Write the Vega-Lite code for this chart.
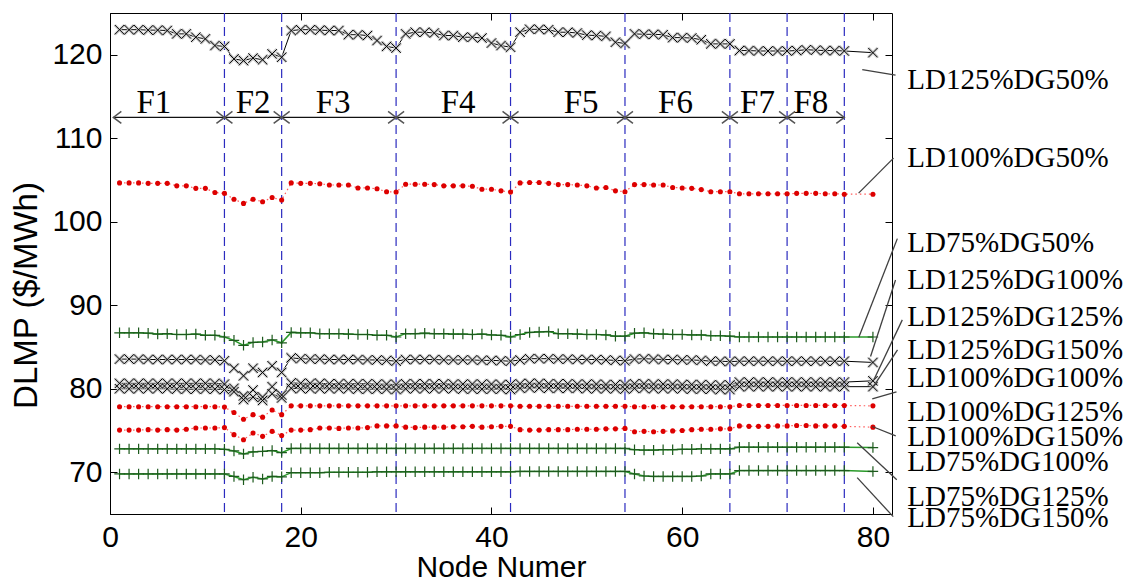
{
"$schema":"https://vega.github.io/schema/vega-lite/v6.json",
"width":782,"height":501,"autosize":"none",
"padding":{"left":110,"top":13,"right":243,"bottom":67},
"background":"white",
"config":{"view":{"stroke":"#000","strokeWidth":1},
"axis":{"grid":false,"domainColor":"#000","tickColor":"#000","labelColor":"#000","titleColor":"#000","labelFont":"Liberation Sans","titleFont":"Liberation Sans","labelFontSize":30,"titleFontSize":31,"titleFontWeight":"normal","tickSize":-7,"tickWidth":1,"domainWidth":1}},
"datasets":{
"vlines":[{"x":12},{"x":18},{"x":30},{"x":42},{"x":54},{"x":65},{"x":71},{"x":77}],
"feeders":[{"f":"F1","start":0.35,"end":12,"mid":4.6,"level":112.5},{"f":"F2","start":12,"end":18,"mid":15.0,"level":112.5},{"f":"F3","start":18,"end":30,"mid":23.4,"level":112.5},{"f":"F4","start":30,"end":42,"mid":36.5,"level":112.5},{"f":"F5","start":42,"end":54,"mid":49.4,"level":112.5},{"f":"F6","start":54,"end":65,"mid":59.3,"level":112.5},{"f":"F7","start":65,"end":71,"mid":67.9,"level":112.5},{"f":"F8","start":71,"end":77,"mid":73.5,"level":112.5}],
"labels":[{"label":"LD125%DG50%","y":116.95},{"label":"LD100%DG50%","y":107.62},{"label":"LD75%DG50%","y":97.45},{"label":"LD125%DG100%","y":93.03},{"label":"LD125%DG125%","y":88.6},{"label":"LD125%DG150%","y":84.65},{"label":"LD100%DG100%","y":81.3},{"label":"LD100%DG125%","y":77.24},{"label":"LD100%DG150%","y":74.25},{"label":"LD75%DG100%","y":71.27},{"label":"LD75%DG125%","y":67.08},{"label":"LD75%DG150%","y":64.56}],
"leaders":[{"x":78.88,"y":118.23,"x2":82.37,"y2":117.55},{"x":78.5,"y":103.43,"x2":82.16,"y2":107.62},{"x":78.52,"y":86.17,"x2":82.56,"y2":97.98},{"x":79.75,"y":83.86,"x2":82.37,"y2":93.03},{"x":80.1,"y":81.07,"x2":83.08,"y2":88.25},{"x":79.96,"y":80.1,"x2":82.58,"y2":84.65},{"x":79.93,"y":78.8,"x2":82.47,"y2":79.64},{"x":79.93,"y":75.48,"x2":82.39,"y2":74.36},{"x":78.35,"y":73.53,"x2":82.5,"y2":69.1},{"x":78.35,"y":69.35,"x2":82.13,"y2":64.68}],
"series":[
{"ld":125,"dg":50,"x":1,"y":123.0},{"ld":125,"dg":50,"x":2,"y":123.0},{"ld":125,"dg":50,"x":3,"y":123.0},{"ld":125,"dg":50,"x":4,"y":122.95},{"ld":125,"dg":50,"x":5,"y":122.95},{"ld":125,"dg":50,"x":6,"y":122.9},{"ld":125,"dg":50,"x":7,"y":122.5},{"ld":125,"dg":50,"x":8,"y":122.5},{"ld":125,"dg":50,"x":9,"y":122.1},{"ld":125,"dg":50,"x":10,"y":121.9},{"ld":125,"dg":50,"x":11,"y":121.1},{"ld":125,"dg":50,"x":12,"y":121.0},
{"ld":125,"dg":50,"x":13,"y":119.5},{"ld":125,"dg":50,"x":14,"y":119.3},{"ld":125,"dg":50,"x":15,"y":119.6},{"ld":125,"dg":50,"x":16,"y":119.4},{"ld":125,"dg":50,"x":17,"y":120.1},{"ld":125,"dg":50,"x":18,"y":119.7},
{"ld":125,"dg":50,"x":19,"y":122.9},{"ld":125,"dg":50,"x":20,"y":123.0},{"ld":125,"dg":50,"x":21,"y":123.0},{"ld":125,"dg":50,"x":22,"y":122.95},{"ld":125,"dg":50,"x":23,"y":122.9},{"ld":125,"dg":50,"x":24,"y":122.9},{"ld":125,"dg":50,"x":25,"y":122.4},{"ld":125,"dg":50,"x":26,"y":122.4},{"ld":125,"dg":50,"x":27,"y":122.3},{"ld":125,"dg":50,"x":28,"y":121.7},{"ld":125,"dg":50,"x":29,"y":121.0},{"ld":125,"dg":50,"x":30,"y":120.8},
{"ld":125,"dg":50,"x":31,"y":122.5},{"ld":125,"dg":50,"x":32,"y":122.7},{"ld":125,"dg":50,"x":33,"y":122.7},{"ld":125,"dg":50,"x":34,"y":122.6},{"ld":125,"dg":50,"x":35,"y":122.3},{"ld":125,"dg":50,"x":36,"y":122.3},{"ld":125,"dg":50,"x":37,"y":122.1},{"ld":125,"dg":50,"x":38,"y":122.1},{"ld":125,"dg":50,"x":39,"y":122.0},{"ld":125,"dg":50,"x":40,"y":121.4},{"ld":125,"dg":50,"x":41,"y":121.1},{"ld":125,"dg":50,"x":42,"y":120.9},
{"ld":125,"dg":50,"x":43,"y":122.7},{"ld":125,"dg":50,"x":44,"y":123.05},{"ld":125,"dg":50,"x":45,"y":123.05},{"ld":125,"dg":50,"x":46,"y":123.0},{"ld":125,"dg":50,"x":47,"y":122.7},{"ld":125,"dg":50,"x":48,"y":122.7},{"ld":125,"dg":50,"x":49,"y":122.6},{"ld":125,"dg":50,"x":50,"y":122.35},{"ld":125,"dg":50,"x":51,"y":122.3},{"ld":125,"dg":50,"x":52,"y":122.2},{"ld":125,"dg":50,"x":53,"y":121.5},{"ld":125,"dg":50,"x":54,"y":121.35},
{"ld":125,"dg":50,"x":55,"y":122.5},{"ld":125,"dg":50,"x":56,"y":122.45},{"ld":125,"dg":50,"x":57,"y":122.45},{"ld":125,"dg":50,"x":58,"y":122.4},{"ld":125,"dg":50,"x":59,"y":122.05},{"ld":125,"dg":50,"x":60,"y":122.05},{"ld":125,"dg":50,"x":61,"y":122.0},{"ld":125,"dg":50,"x":62,"y":121.8},{"ld":125,"dg":50,"x":63,"y":121.3},{"ld":125,"dg":50,"x":64,"y":121.3},{"ld":125,"dg":50,"x":65,"y":121.3},
{"ld":125,"dg":50,"x":66,"y":120.5},{"ld":125,"dg":50,"x":67,"y":120.5},{"ld":125,"dg":50,"x":68,"y":120.45},{"ld":125,"dg":50,"x":69,"y":120.45},{"ld":125,"dg":50,"x":70,"y":120.45},{"ld":125,"dg":50,"x":71,"y":120.45},
{"ld":125,"dg":50,"x":72,"y":120.5},{"ld":125,"dg":50,"x":73,"y":120.6},{"ld":125,"dg":50,"x":74,"y":120.55},{"ld":125,"dg":50,"x":75,"y":120.5},{"ld":125,"dg":50,"x":76,"y":120.5},{"ld":125,"dg":50,"x":77,"y":120.45},{"ld":125,"dg":50,"x":80,"y":120.25},

{"ld":100,"dg":50,"x":1,"y":104.65},{"ld":100,"dg":50,"x":2,"y":104.65},{"ld":100,"dg":50,"x":3,"y":104.65},{"ld":100,"dg":50,"x":4,"y":104.6},{"ld":100,"dg":50,"x":5,"y":104.6},{"ld":100,"dg":50,"x":6,"y":104.6},{"ld":100,"dg":50,"x":7,"y":104.3},{"ld":100,"dg":50,"x":8,"y":104.3},{"ld":100,"dg":50,"x":9,"y":104.0},{"ld":100,"dg":50,"x":10,"y":104.0},{"ld":100,"dg":50,"x":11,"y":103.5},{"ld":100,"dg":50,"x":12,"y":103.4},
{"ld":100,"dg":50,"x":13,"y":102.7},{"ld":100,"dg":50,"x":14,"y":102.2},{"ld":100,"dg":50,"x":15,"y":102.7},{"ld":100,"dg":50,"x":16,"y":102.4},{"ld":100,"dg":50,"x":17,"y":102.9},{"ld":100,"dg":50,"x":18,"y":102.6},
{"ld":100,"dg":50,"x":19,"y":104.65},{"ld":100,"dg":50,"x":20,"y":104.6},{"ld":100,"dg":50,"x":21,"y":104.6},{"ld":100,"dg":50,"x":22,"y":104.55},{"ld":100,"dg":50,"x":23,"y":104.4},{"ld":100,"dg":50,"x":24,"y":104.4},{"ld":100,"dg":50,"x":25,"y":104.4},{"ld":100,"dg":50,"x":26,"y":104.05},{"ld":100,"dg":50,"x":27,"y":104.05},{"ld":100,"dg":50,"x":28,"y":103.95},{"ld":100,"dg":50,"x":29,"y":103.6},{"ld":100,"dg":50,"x":30,"y":103.55},
{"ld":100,"dg":50,"x":31,"y":104.5},{"ld":100,"dg":50,"x":32,"y":104.5},{"ld":100,"dg":50,"x":33,"y":104.5},{"ld":100,"dg":50,"x":34,"y":104.45},{"ld":100,"dg":50,"x":35,"y":104.3},{"ld":100,"dg":50,"x":36,"y":104.3},{"ld":100,"dg":50,"x":37,"y":104.3},{"ld":100,"dg":50,"x":38,"y":104.25},{"ld":100,"dg":50,"x":39,"y":103.9},{"ld":100,"dg":50,"x":40,"y":103.9},{"ld":100,"dg":50,"x":41,"y":103.7},{"ld":100,"dg":50,"x":42,"y":103.55},
{"ld":100,"dg":50,"x":43,"y":104.65},{"ld":100,"dg":50,"x":44,"y":104.7},{"ld":100,"dg":50,"x":45,"y":104.7},{"ld":100,"dg":50,"x":46,"y":104.6},{"ld":100,"dg":50,"x":47,"y":104.45},{"ld":100,"dg":50,"x":48,"y":104.45},{"ld":100,"dg":50,"x":49,"y":104.4},{"ld":100,"dg":50,"x":50,"y":104.3},{"ld":100,"dg":50,"x":51,"y":104.05},{"ld":100,"dg":50,"x":52,"y":104.1},{"ld":100,"dg":50,"x":53,"y":103.7},{"ld":100,"dg":50,"x":54,"y":103.6},
{"ld":100,"dg":50,"x":55,"y":104.45},{"ld":100,"dg":50,"x":56,"y":104.45},{"ld":100,"dg":50,"x":57,"y":104.4},{"ld":100,"dg":50,"x":58,"y":104.4},{"ld":100,"dg":50,"x":59,"y":104.1},{"ld":100,"dg":50,"x":60,"y":104.05},{"ld":100,"dg":50,"x":61,"y":104.0},{"ld":100,"dg":50,"x":62,"y":103.85},{"ld":100,"dg":50,"x":63,"y":103.6},{"ld":100,"dg":50,"x":64,"y":103.6},{"ld":100,"dg":50,"x":65,"y":103.6},
{"ld":100,"dg":50,"x":66,"y":103.35},{"ld":100,"dg":50,"x":67,"y":103.35},{"ld":100,"dg":50,"x":68,"y":103.35},{"ld":100,"dg":50,"x":69,"y":103.35},{"ld":100,"dg":50,"x":70,"y":103.35},{"ld":100,"dg":50,"x":71,"y":103.35},
{"ld":100,"dg":50,"x":72,"y":103.4},{"ld":100,"dg":50,"x":73,"y":103.4},{"ld":100,"dg":50,"x":74,"y":103.4},{"ld":100,"dg":50,"x":75,"y":103.35},{"ld":100,"dg":50,"x":76,"y":103.35},{"ld":100,"dg":50,"x":77,"y":103.3},{"ld":100,"dg":50,"x":80,"y":103.3},

{"ld":75,"dg":50,"x":1,"y":86.7},{"ld":75,"dg":50,"x":2,"y":86.7},{"ld":75,"dg":50,"x":3,"y":86.7},{"ld":75,"dg":50,"x":4,"y":86.65},{"ld":75,"dg":50,"x":5,"y":86.55},{"ld":75,"dg":50,"x":6,"y":86.6},{"ld":75,"dg":50,"x":7,"y":86.5},{"ld":75,"dg":50,"x":8,"y":86.5},{"ld":75,"dg":50,"x":9,"y":86.55},{"ld":75,"dg":50,"x":10,"y":86.4},{"ld":75,"dg":50,"x":11,"y":86.4},{"ld":75,"dg":50,"x":12,"y":86.2},
{"ld":75,"dg":50,"x":13,"y":85.8},{"ld":75,"dg":50,"x":14,"y":85.2},{"ld":75,"dg":50,"x":15,"y":85.55},{"ld":75,"dg":50,"x":16,"y":85.6},{"ld":75,"dg":50,"x":17,"y":85.85},{"ld":75,"dg":50,"x":18,"y":85.5},
{"ld":75,"dg":50,"x":19,"y":86.75},{"ld":75,"dg":50,"x":20,"y":86.7},{"ld":75,"dg":50,"x":21,"y":86.7},{"ld":75,"dg":50,"x":22,"y":86.6},{"ld":75,"dg":50,"x":23,"y":86.6},{"ld":75,"dg":50,"x":24,"y":86.6},{"ld":75,"dg":50,"x":25,"y":86.55},{"ld":75,"dg":50,"x":26,"y":86.5},{"ld":75,"dg":50,"x":27,"y":86.5},{"ld":75,"dg":50,"x":28,"y":86.4},{"ld":75,"dg":50,"x":29,"y":86.4},{"ld":75,"dg":50,"x":30,"y":86.2},
{"ld":75,"dg":50,"x":31,"y":86.6},{"ld":75,"dg":50,"x":32,"y":86.6},{"ld":75,"dg":50,"x":33,"y":86.65},{"ld":75,"dg":50,"x":34,"y":86.6},{"ld":75,"dg":50,"x":35,"y":86.6},{"ld":75,"dg":50,"x":36,"y":86.55},{"ld":75,"dg":50,"x":37,"y":86.55},{"ld":75,"dg":50,"x":38,"y":86.5},{"ld":75,"dg":50,"x":39,"y":86.55},{"ld":75,"dg":50,"x":40,"y":86.45},{"ld":75,"dg":50,"x":41,"y":86.4},{"ld":75,"dg":50,"x":42,"y":86.2},
{"ld":75,"dg":50,"x":43,"y":86.5},{"ld":75,"dg":50,"x":44,"y":86.75},{"ld":75,"dg":50,"x":45,"y":86.8},{"ld":75,"dg":50,"x":46,"y":86.85},{"ld":75,"dg":50,"x":47,"y":86.6},{"ld":75,"dg":50,"x":48,"y":86.6},{"ld":75,"dg":50,"x":49,"y":86.55},{"ld":75,"dg":50,"x":50,"y":86.5},{"ld":75,"dg":50,"x":51,"y":86.5},{"ld":75,"dg":50,"x":52,"y":86.45},{"ld":75,"dg":50,"x":53,"y":86.3},{"ld":75,"dg":50,"x":54,"y":86.3},
{"ld":75,"dg":50,"x":55,"y":86.65},{"ld":75,"dg":50,"x":56,"y":86.7},{"ld":75,"dg":50,"x":57,"y":86.6},{"ld":75,"dg":50,"x":58,"y":86.55},{"ld":75,"dg":50,"x":59,"y":86.5},{"ld":75,"dg":50,"x":60,"y":86.5},{"ld":75,"dg":50,"x":61,"y":86.45},{"ld":75,"dg":50,"x":62,"y":86.45},{"ld":75,"dg":50,"x":63,"y":86.35},{"ld":75,"dg":50,"x":64,"y":86.35},{"ld":75,"dg":50,"x":65,"y":86.3},
{"ld":75,"dg":50,"x":66,"y":86.2},{"ld":75,"dg":50,"x":67,"y":86.2},{"ld":75,"dg":50,"x":68,"y":86.2},{"ld":75,"dg":50,"x":69,"y":86.2},{"ld":75,"dg":50,"x":70,"y":86.2},{"ld":75,"dg":50,"x":71,"y":86.2},{"ld":75,"dg":50,"x":72,"y":86.2},{"ld":75,"dg":50,"x":73,"y":86.2},{"ld":75,"dg":50,"x":74,"y":86.2},{"ld":75,"dg":50,"x":75,"y":86.2},{"ld":75,"dg":50,"x":76,"y":86.2},{"ld":75,"dg":50,"x":77,"y":86.2},{"ld":75,"dg":50,"x":80,"y":86.2},

{"ld":125,"dg":100,"x":1,"y":83.55},{"ld":125,"dg":100,"x":2,"y":83.55},{"ld":125,"dg":100,"x":3,"y":83.55},{"ld":125,"dg":100,"x":4,"y":83.5},{"ld":125,"dg":100,"x":5,"y":83.5},{"ld":125,"dg":100,"x":6,"y":83.5},{"ld":125,"dg":100,"x":7,"y":83.5},{"ld":125,"dg":100,"x":8,"y":83.5},{"ld":125,"dg":100,"x":9,"y":83.5},{"ld":125,"dg":100,"x":10,"y":83.45},{"ld":125,"dg":100,"x":11,"y":83.45},{"ld":125,"dg":100,"x":12,"y":83.35},
{"ld":125,"dg":100,"x":13,"y":82.45},{"ld":125,"dg":100,"x":14,"y":81.55},{"ld":125,"dg":100,"x":15,"y":82.45},{"ld":125,"dg":100,"x":16,"y":81.95},{"ld":125,"dg":100,"x":17,"y":82.75},{"ld":125,"dg":100,"x":18,"y":81.95},
{"ld":125,"dg":100,"x":19,"y":83.7},{"ld":125,"dg":100,"x":20,"y":83.6},{"ld":125,"dg":100,"x":21,"y":83.55},{"ld":125,"dg":100,"x":22,"y":83.55},{"ld":125,"dg":100,"x":23,"y":83.5},{"ld":125,"dg":100,"x":24,"y":83.5},{"ld":125,"dg":100,"x":25,"y":83.5},{"ld":125,"dg":100,"x":26,"y":83.5},{"ld":125,"dg":100,"x":27,"y":83.45},{"ld":125,"dg":100,"x":28,"y":83.45},{"ld":125,"dg":100,"x":29,"y":83.4},{"ld":125,"dg":100,"x":30,"y":83.3},
{"ld":125,"dg":100,"x":31,"y":83.5},{"ld":125,"dg":100,"x":32,"y":83.5},{"ld":125,"dg":100,"x":33,"y":83.5},{"ld":125,"dg":100,"x":34,"y":83.5},{"ld":125,"dg":100,"x":35,"y":83.45},{"ld":125,"dg":100,"x":36,"y":83.45},{"ld":125,"dg":100,"x":37,"y":83.45},{"ld":125,"dg":100,"x":38,"y":83.45},{"ld":125,"dg":100,"x":39,"y":83.4},{"ld":125,"dg":100,"x":40,"y":83.4},{"ld":125,"dg":100,"x":41,"y":83.35},{"ld":125,"dg":100,"x":42,"y":83.3},
{"ld":125,"dg":100,"x":43,"y":83.45},{"ld":125,"dg":100,"x":44,"y":83.6},{"ld":125,"dg":100,"x":45,"y":83.6},{"ld":125,"dg":100,"x":46,"y":83.6},{"ld":125,"dg":100,"x":47,"y":83.55},{"ld":125,"dg":100,"x":48,"y":83.55},{"ld":125,"dg":100,"x":49,"y":83.5},{"ld":125,"dg":100,"x":50,"y":83.5},{"ld":125,"dg":100,"x":51,"y":83.5},{"ld":125,"dg":100,"x":52,"y":83.45},{"ld":125,"dg":100,"x":53,"y":83.4},{"ld":125,"dg":100,"x":54,"y":83.35},
{"ld":125,"dg":100,"x":55,"y":83.55},{"ld":125,"dg":100,"x":56,"y":83.6},{"ld":125,"dg":100,"x":57,"y":83.55},{"ld":125,"dg":100,"x":58,"y":83.5},{"ld":125,"dg":100,"x":59,"y":83.5},{"ld":125,"dg":100,"x":60,"y":83.45},{"ld":125,"dg":100,"x":61,"y":83.45},{"ld":125,"dg":100,"x":62,"y":83.4},{"ld":125,"dg":100,"x":63,"y":83.3},{"ld":125,"dg":100,"x":64,"y":83.3},{"ld":125,"dg":100,"x":65,"y":83.25},
{"ld":125,"dg":100,"x":66,"y":83.3},{"ld":125,"dg":100,"x":67,"y":83.3},{"ld":125,"dg":100,"x":68,"y":83.3},{"ld":125,"dg":100,"x":69,"y":83.3},{"ld":125,"dg":100,"x":70,"y":83.3},{"ld":125,"dg":100,"x":71,"y":83.3},{"ld":125,"dg":100,"x":72,"y":83.3},{"ld":125,"dg":100,"x":73,"y":83.3},{"ld":125,"dg":100,"x":74,"y":83.3},{"ld":125,"dg":100,"x":75,"y":83.3},{"ld":125,"dg":100,"x":76,"y":83.3},{"ld":125,"dg":100,"x":77,"y":83.3},{"ld":125,"dg":100,"x":80,"y":83.15},

{"ld":125,"dg":125,"x":1,"y":80.65},{"ld":125,"dg":125,"x":2,"y":80.65},{"ld":125,"dg":125,"x":3,"y":80.65},{"ld":125,"dg":125,"x":4,"y":80.65},{"ld":125,"dg":125,"x":5,"y":80.65},{"ld":125,"dg":125,"x":6,"y":80.65},{"ld":125,"dg":125,"x":7,"y":80.65},{"ld":125,"dg":125,"x":8,"y":80.65},{"ld":125,"dg":125,"x":9,"y":80.65},{"ld":125,"dg":125,"x":10,"y":80.65},{"ld":125,"dg":125,"x":11,"y":80.65},{"ld":125,"dg":125,"x":12,"y":80.55},
{"ld":125,"dg":125,"x":13,"y":80.05},{"ld":125,"dg":125,"x":14,"y":79.15},{"ld":125,"dg":125,"x":15,"y":79.85},{"ld":125,"dg":125,"x":16,"y":79.0},{"ld":125,"dg":125,"x":17,"y":80.25},{"ld":125,"dg":125,"x":18,"y":79.25},
{"ld":125,"dg":125,"x":19,"y":80.7},{"ld":125,"dg":125,"x":20,"y":80.65},{"ld":125,"dg":125,"x":21,"y":80.65},{"ld":125,"dg":125,"x":22,"y":80.65},{"ld":125,"dg":125,"x":23,"y":80.6},{"ld":125,"dg":125,"x":24,"y":80.6},{"ld":125,"dg":125,"x":25,"y":80.6},{"ld":125,"dg":125,"x":26,"y":80.6},{"ld":125,"dg":125,"x":27,"y":80.6},{"ld":125,"dg":125,"x":28,"y":80.55},{"ld":125,"dg":125,"x":29,"y":80.55},{"ld":125,"dg":125,"x":30,"y":80.5},
{"ld":125,"dg":125,"x":31,"y":80.6},{"ld":125,"dg":125,"x":32,"y":80.6},{"ld":125,"dg":125,"x":33,"y":80.6},{"ld":125,"dg":125,"x":34,"y":80.6},{"ld":125,"dg":125,"x":35,"y":80.6},{"ld":125,"dg":125,"x":36,"y":80.55},{"ld":125,"dg":125,"x":37,"y":80.55},{"ld":125,"dg":125,"x":38,"y":80.55},{"ld":125,"dg":125,"x":39,"y":80.55},{"ld":125,"dg":125,"x":40,"y":80.55},{"ld":125,"dg":125,"x":41,"y":80.5},{"ld":125,"dg":125,"x":42,"y":80.5},
{"ld":125,"dg":125,"x":43,"y":80.6},{"ld":125,"dg":125,"x":44,"y":80.65},{"ld":125,"dg":125,"x":45,"y":80.65},{"ld":125,"dg":125,"x":46,"y":80.6},{"ld":125,"dg":125,"x":47,"y":80.6},{"ld":125,"dg":125,"x":48,"y":80.6},{"ld":125,"dg":125,"x":49,"y":80.55},{"ld":125,"dg":125,"x":50,"y":80.55},{"ld":125,"dg":125,"x":51,"y":80.55},{"ld":125,"dg":125,"x":52,"y":80.5},{"ld":125,"dg":125,"x":53,"y":80.5},{"ld":125,"dg":125,"x":54,"y":80.5},
{"ld":125,"dg":125,"x":55,"y":80.6},{"ld":125,"dg":125,"x":56,"y":80.6},{"ld":125,"dg":125,"x":57,"y":80.55},{"ld":125,"dg":125,"x":58,"y":80.55},{"ld":125,"dg":125,"x":59,"y":80.55},{"ld":125,"dg":125,"x":60,"y":80.5},{"ld":125,"dg":125,"x":61,"y":80.5},{"ld":125,"dg":125,"x":62,"y":80.5},{"ld":125,"dg":125,"x":63,"y":80.45},{"ld":125,"dg":125,"x":64,"y":80.45},{"ld":125,"dg":125,"x":65,"y":80.45},
{"ld":125,"dg":125,"x":66,"y":80.8},{"ld":125,"dg":125,"x":67,"y":80.8},{"ld":125,"dg":125,"x":68,"y":80.8},{"ld":125,"dg":125,"x":69,"y":80.8},{"ld":125,"dg":125,"x":70,"y":80.8},{"ld":125,"dg":125,"x":71,"y":80.8},{"ld":125,"dg":125,"x":72,"y":80.8},{"ld":125,"dg":125,"x":73,"y":80.8},{"ld":125,"dg":125,"x":74,"y":80.8},{"ld":125,"dg":125,"x":75,"y":80.8},{"ld":125,"dg":125,"x":76,"y":80.8},{"ld":125,"dg":125,"x":77,"y":80.8},{"ld":125,"dg":125,"x":80,"y":80.95},

{"ld":125,"dg":150,"x":1,"y":80.0},{"ld":125,"dg":150,"x":2,"y":80.0},{"ld":125,"dg":150,"x":3,"y":80.0},{"ld":125,"dg":150,"x":4,"y":80.0},{"ld":125,"dg":150,"x":5,"y":80.0},{"ld":125,"dg":150,"x":6,"y":80.0},{"ld":125,"dg":150,"x":7,"y":79.95},{"ld":125,"dg":150,"x":8,"y":79.95},{"ld":125,"dg":150,"x":9,"y":79.95},{"ld":125,"dg":150,"x":10,"y":79.95},{"ld":125,"dg":150,"x":11,"y":79.95},{"ld":125,"dg":150,"x":12,"y":79.9},
{"ld":125,"dg":150,"x":13,"y":79.65},{"ld":125,"dg":150,"x":14,"y":78.7},{"ld":125,"dg":150,"x":15,"y":79.0},{"ld":125,"dg":150,"x":16,"y":78.6},{"ld":125,"dg":150,"x":17,"y":79.4},{"ld":125,"dg":150,"x":18,"y":78.9},
{"ld":125,"dg":150,"x":19,"y":80.05},{"ld":125,"dg":150,"x":20,"y":80.0},{"ld":125,"dg":150,"x":21,"y":80.0},{"ld":125,"dg":150,"x":22,"y":80.0},{"ld":125,"dg":150,"x":23,"y":80.0},{"ld":125,"dg":150,"x":24,"y":80.0},{"ld":125,"dg":150,"x":25,"y":80.0},{"ld":125,"dg":150,"x":26,"y":79.95},{"ld":125,"dg":150,"x":27,"y":79.95},{"ld":125,"dg":150,"x":28,"y":79.95},{"ld":125,"dg":150,"x":29,"y":79.95},{"ld":125,"dg":150,"x":30,"y":79.9},
{"ld":125,"dg":150,"x":31,"y":80.0},{"ld":125,"dg":150,"x":32,"y":80.0},{"ld":125,"dg":150,"x":33,"y":80.0},{"ld":125,"dg":150,"x":34,"y":80.0},{"ld":125,"dg":150,"x":35,"y":80.0},{"ld":125,"dg":150,"x":36,"y":80.0},{"ld":125,"dg":150,"x":37,"y":79.95},{"ld":125,"dg":150,"x":38,"y":79.95},{"ld":125,"dg":150,"x":39,"y":79.95},{"ld":125,"dg":150,"x":40,"y":79.95},{"ld":125,"dg":150,"x":41,"y":79.95},{"ld":125,"dg":150,"x":42,"y":79.9},
{"ld":125,"dg":150,"x":43,"y":80.05},{"ld":125,"dg":150,"x":44,"y":80.1},{"ld":125,"dg":150,"x":45,"y":80.1},{"ld":125,"dg":150,"x":46,"y":80.05},{"ld":125,"dg":150,"x":47,"y":80.05},{"ld":125,"dg":150,"x":48,"y":80.05},{"ld":125,"dg":150,"x":49,"y":80.05},{"ld":125,"dg":150,"x":50,"y":80.0},{"ld":125,"dg":150,"x":51,"y":80.0},{"ld":125,"dg":150,"x":52,"y":80.0},{"ld":125,"dg":150,"x":53,"y":80.0},{"ld":125,"dg":150,"x":54,"y":79.95},
{"ld":125,"dg":150,"x":55,"y":80.05},{"ld":125,"dg":150,"x":56,"y":80.05},{"ld":125,"dg":150,"x":57,"y":80.0},{"ld":125,"dg":150,"x":58,"y":80.0},{"ld":125,"dg":150,"x":59,"y":80.0},{"ld":125,"dg":150,"x":60,"y":80.0},{"ld":125,"dg":150,"x":61,"y":79.95},{"ld":125,"dg":150,"x":62,"y":79.95},{"ld":125,"dg":150,"x":63,"y":79.95},{"ld":125,"dg":150,"x":64,"y":79.9},{"ld":125,"dg":150,"x":65,"y":79.9},
{"ld":125,"dg":150,"x":66,"y":80.25},{"ld":125,"dg":150,"x":67,"y":80.25},{"ld":125,"dg":150,"x":68,"y":80.25},{"ld":125,"dg":150,"x":69,"y":80.25},{"ld":125,"dg":150,"x":70,"y":80.25},{"ld":125,"dg":150,"x":71,"y":80.25},{"ld":125,"dg":150,"x":72,"y":80.25},{"ld":125,"dg":150,"x":73,"y":80.25},{"ld":125,"dg":150,"x":74,"y":80.25},{"ld":125,"dg":150,"x":75,"y":80.25},{"ld":125,"dg":150,"x":76,"y":80.25},{"ld":125,"dg":150,"x":77,"y":80.25},{"ld":125,"dg":150,"x":80,"y":80.25},

{"ld":100,"dg":100,"x":1,"y":77.85},{"ld":100,"dg":100,"x":2,"y":77.85},{"ld":100,"dg":100,"x":3,"y":77.85},{"ld":100,"dg":100,"x":4,"y":77.85},{"ld":100,"dg":100,"x":5,"y":77.85},{"ld":100,"dg":100,"x":6,"y":77.85},{"ld":100,"dg":100,"x":7,"y":77.85},{"ld":100,"dg":100,"x":8,"y":77.85},{"ld":100,"dg":100,"x":9,"y":77.85},{"ld":100,"dg":100,"x":10,"y":77.85},{"ld":100,"dg":100,"x":11,"y":77.85},{"ld":100,"dg":100,"x":12,"y":77.8},
{"ld":100,"dg":100,"x":13,"y":77.15},{"ld":100,"dg":100,"x":14,"y":76.35},{"ld":100,"dg":100,"x":15,"y":76.9},{"ld":100,"dg":100,"x":16,"y":76.6},{"ld":100,"dg":100,"x":17,"y":77.45},{"ld":100,"dg":100,"x":18,"y":76.9},
{"ld":100,"dg":100,"x":19,"y":77.95},{"ld":100,"dg":100,"x":20,"y":77.95},{"ld":100,"dg":100,"x":21,"y":77.95},{"ld":100,"dg":100,"x":22,"y":77.95},{"ld":100,"dg":100,"x":23,"y":77.95},{"ld":100,"dg":100,"x":24,"y":77.95},{"ld":100,"dg":100,"x":25,"y":77.95},{"ld":100,"dg":100,"x":26,"y":77.95},{"ld":100,"dg":100,"x":27,"y":77.95},{"ld":100,"dg":100,"x":28,"y":77.95},{"ld":100,"dg":100,"x":29,"y":77.95},{"ld":100,"dg":100,"x":30,"y":77.95},
{"ld":100,"dg":100,"x":31,"y":77.95},{"ld":100,"dg":100,"x":32,"y":77.95},{"ld":100,"dg":100,"x":33,"y":77.95},{"ld":100,"dg":100,"x":34,"y":77.95},{"ld":100,"dg":100,"x":35,"y":77.95},{"ld":100,"dg":100,"x":36,"y":77.95},{"ld":100,"dg":100,"x":37,"y":77.95},{"ld":100,"dg":100,"x":38,"y":77.95},{"ld":100,"dg":100,"x":39,"y":77.95},{"ld":100,"dg":100,"x":40,"y":77.95},{"ld":100,"dg":100,"x":41,"y":77.95},{"ld":100,"dg":100,"x":42,"y":77.95},
{"ld":100,"dg":100,"x":43,"y":77.9},{"ld":100,"dg":100,"x":44,"y":77.9},{"ld":100,"dg":100,"x":45,"y":77.9},{"ld":100,"dg":100,"x":46,"y":77.9},{"ld":100,"dg":100,"x":47,"y":77.9},{"ld":100,"dg":100,"x":48,"y":77.9},{"ld":100,"dg":100,"x":49,"y":77.9},{"ld":100,"dg":100,"x":50,"y":77.9},{"ld":100,"dg":100,"x":51,"y":77.9},{"ld":100,"dg":100,"x":52,"y":77.9},{"ld":100,"dg":100,"x":53,"y":77.9},{"ld":100,"dg":100,"x":54,"y":77.9},
{"ld":100,"dg":100,"x":55,"y":77.85},{"ld":100,"dg":100,"x":56,"y":77.85},{"ld":100,"dg":100,"x":57,"y":77.85},{"ld":100,"dg":100,"x":58,"y":77.85},{"ld":100,"dg":100,"x":59,"y":77.85},{"ld":100,"dg":100,"x":60,"y":77.85},{"ld":100,"dg":100,"x":61,"y":77.85},{"ld":100,"dg":100,"x":62,"y":77.85},{"ld":100,"dg":100,"x":63,"y":77.85},{"ld":100,"dg":100,"x":64,"y":77.85},{"ld":100,"dg":100,"x":65,"y":77.85},
{"ld":100,"dg":100,"x":66,"y":78.0},{"ld":100,"dg":100,"x":67,"y":78.0},{"ld":100,"dg":100,"x":68,"y":78.0},{"ld":100,"dg":100,"x":69,"y":78.0},{"ld":100,"dg":100,"x":70,"y":78.0},{"ld":100,"dg":100,"x":71,"y":78.0},{"ld":100,"dg":100,"x":72,"y":78.0},{"ld":100,"dg":100,"x":73,"y":78.0},{"ld":100,"dg":100,"x":74,"y":78.0},{"ld":100,"dg":100,"x":75,"y":78.0},{"ld":100,"dg":100,"x":76,"y":78.0},{"ld":100,"dg":100,"x":77,"y":78.0},{"ld":100,"dg":100,"x":80,"y":77.95},

{"ld":100,"dg":125,"x":1,"y":75.05},{"ld":100,"dg":125,"x":2,"y":75.05},{"ld":100,"dg":125,"x":3,"y":75.05},{"ld":100,"dg":125,"x":4,"y":75.1},{"ld":100,"dg":125,"x":5,"y":75.05},{"ld":100,"dg":125,"x":6,"y":75.1},{"ld":100,"dg":125,"x":7,"y":75.05},{"ld":100,"dg":125,"x":8,"y":75.15},{"ld":100,"dg":125,"x":9,"y":75.3},{"ld":100,"dg":125,"x":10,"y":75.3},{"ld":100,"dg":125,"x":11,"y":75.3},{"ld":100,"dg":125,"x":12,"y":75.35},
{"ld":100,"dg":125,"x":13,"y":74.5},{"ld":100,"dg":125,"x":14,"y":73.9},{"ld":100,"dg":125,"x":15,"y":74.7},{"ld":100,"dg":125,"x":16,"y":74.3},{"ld":100,"dg":125,"x":17,"y":74.9},{"ld":100,"dg":125,"x":18,"y":74.4},
{"ld":100,"dg":125,"x":19,"y":75.05},{"ld":100,"dg":125,"x":20,"y":75.05},{"ld":100,"dg":125,"x":21,"y":75.1},{"ld":100,"dg":125,"x":22,"y":75.3},{"ld":100,"dg":125,"x":23,"y":75.3},{"ld":100,"dg":125,"x":24,"y":75.25},{"ld":100,"dg":125,"x":25,"y":75.3},{"ld":100,"dg":125,"x":26,"y":75.3},{"ld":100,"dg":125,"x":27,"y":75.35},{"ld":100,"dg":125,"x":28,"y":75.55},{"ld":100,"dg":125,"x":29,"y":75.55},{"ld":100,"dg":125,"x":30,"y":75.55},
{"ld":100,"dg":125,"x":31,"y":75.4},{"ld":100,"dg":125,"x":32,"y":75.35},{"ld":100,"dg":125,"x":33,"y":75.4},{"ld":100,"dg":125,"x":34,"y":75.4},{"ld":100,"dg":125,"x":35,"y":75.4},{"ld":100,"dg":125,"x":36,"y":75.45},{"ld":100,"dg":125,"x":37,"y":75.45},{"ld":100,"dg":125,"x":38,"y":75.5},{"ld":100,"dg":125,"x":39,"y":75.4},{"ld":100,"dg":125,"x":40,"y":75.45},{"ld":100,"dg":125,"x":41,"y":75.5},{"ld":100,"dg":125,"x":42,"y":75.5},
{"ld":100,"dg":125,"x":43,"y":75.1},{"ld":100,"dg":125,"x":44,"y":75.05},{"ld":100,"dg":125,"x":45,"y":75.05},{"ld":100,"dg":125,"x":46,"y":75.1},{"ld":100,"dg":125,"x":47,"y":75.1},{"ld":100,"dg":125,"x":48,"y":75.1},{"ld":100,"dg":125,"x":49,"y":75.15},{"ld":100,"dg":125,"x":50,"y":75.15},{"ld":100,"dg":125,"x":51,"y":75.15},{"ld":100,"dg":125,"x":52,"y":75.2},{"ld":100,"dg":125,"x":53,"y":75.2},{"ld":100,"dg":125,"x":54,"y":75.25},
{"ld":100,"dg":125,"x":55,"y":74.85},{"ld":100,"dg":125,"x":56,"y":74.9},{"ld":100,"dg":125,"x":57,"y":74.85},{"ld":100,"dg":125,"x":58,"y":74.9},{"ld":100,"dg":125,"x":59,"y":74.95},{"ld":100,"dg":125,"x":60,"y":75.0},{"ld":100,"dg":125,"x":61,"y":75.1},{"ld":100,"dg":125,"x":62,"y":75.15},{"ld":100,"dg":125,"x":63,"y":75.15},{"ld":100,"dg":125,"x":64,"y":75.2},{"ld":100,"dg":125,"x":65,"y":75.2},
{"ld":100,"dg":125,"x":66,"y":75.55},{"ld":100,"dg":125,"x":67,"y":75.5},{"ld":100,"dg":125,"x":68,"y":75.5},{"ld":100,"dg":125,"x":69,"y":75.5},{"ld":100,"dg":125,"x":70,"y":75.55},{"ld":100,"dg":125,"x":71,"y":75.55},{"ld":100,"dg":125,"x":72,"y":75.6},{"ld":100,"dg":125,"x":73,"y":75.6},{"ld":100,"dg":125,"x":74,"y":75.55},{"ld":100,"dg":125,"x":75,"y":75.55},{"ld":100,"dg":125,"x":76,"y":75.55},{"ld":100,"dg":125,"x":77,"y":75.5},{"ld":100,"dg":125,"x":80,"y":75.4},

{"ld":75,"dg":100,"x":1,"y":72.8},{"ld":75,"dg":100,"x":2,"y":72.8},{"ld":75,"dg":100,"x":3,"y":72.8},{"ld":75,"dg":100,"x":4,"y":72.8},{"ld":75,"dg":100,"x":5,"y":72.8},{"ld":75,"dg":100,"x":6,"y":72.8},{"ld":75,"dg":100,"x":7,"y":72.8},{"ld":75,"dg":100,"x":8,"y":72.8},{"ld":75,"dg":100,"x":9,"y":72.8},{"ld":75,"dg":100,"x":10,"y":72.8},{"ld":75,"dg":100,"x":11,"y":72.8},{"ld":75,"dg":100,"x":12,"y":72.75},
{"ld":75,"dg":100,"x":13,"y":72.55},{"ld":75,"dg":100,"x":14,"y":72.2},{"ld":75,"dg":100,"x":15,"y":72.45},{"ld":75,"dg":100,"x":16,"y":72.5},{"ld":75,"dg":100,"x":17,"y":72.6},{"ld":75,"dg":100,"x":18,"y":72.35},
{"ld":75,"dg":100,"x":19,"y":72.85},{"ld":75,"dg":100,"x":20,"y":72.85},{"ld":75,"dg":100,"x":21,"y":72.85},{"ld":75,"dg":100,"x":22,"y":72.85},{"ld":75,"dg":100,"x":23,"y":72.85},{"ld":75,"dg":100,"x":24,"y":72.85},{"ld":75,"dg":100,"x":25,"y":72.85},{"ld":75,"dg":100,"x":26,"y":72.85},{"ld":75,"dg":100,"x":27,"y":72.85},{"ld":75,"dg":100,"x":28,"y":72.85},{"ld":75,"dg":100,"x":29,"y":72.85},{"ld":75,"dg":100,"x":30,"y":72.85},
{"ld":75,"dg":100,"x":31,"y":72.85},{"ld":75,"dg":100,"x":32,"y":72.85},{"ld":75,"dg":100,"x":33,"y":72.85},{"ld":75,"dg":100,"x":34,"y":72.85},{"ld":75,"dg":100,"x":35,"y":72.85},{"ld":75,"dg":100,"x":36,"y":72.85},{"ld":75,"dg":100,"x":37,"y":72.85},{"ld":75,"dg":100,"x":38,"y":72.85},{"ld":75,"dg":100,"x":39,"y":72.85},{"ld":75,"dg":100,"x":40,"y":72.85},{"ld":75,"dg":100,"x":41,"y":72.85},{"ld":75,"dg":100,"x":42,"y":72.85},
{"ld":75,"dg":100,"x":43,"y":72.85},{"ld":75,"dg":100,"x":44,"y":72.85},{"ld":75,"dg":100,"x":45,"y":72.85},{"ld":75,"dg":100,"x":46,"y":72.85},{"ld":75,"dg":100,"x":47,"y":72.85},{"ld":75,"dg":100,"x":48,"y":72.85},{"ld":75,"dg":100,"x":49,"y":72.85},{"ld":75,"dg":100,"x":50,"y":72.85},{"ld":75,"dg":100,"x":51,"y":72.85},{"ld":75,"dg":100,"x":52,"y":72.85},{"ld":75,"dg":100,"x":53,"y":72.85},{"ld":75,"dg":100,"x":54,"y":72.85},
{"ld":75,"dg":100,"x":55,"y":72.7},{"ld":75,"dg":100,"x":56,"y":72.65},{"ld":75,"dg":100,"x":57,"y":72.65},{"ld":75,"dg":100,"x":58,"y":72.7},{"ld":75,"dg":100,"x":59,"y":72.7},{"ld":75,"dg":100,"x":60,"y":72.75},{"ld":75,"dg":100,"x":61,"y":72.75},{"ld":75,"dg":100,"x":62,"y":72.8},{"ld":75,"dg":100,"x":63,"y":72.8},{"ld":75,"dg":100,"x":64,"y":72.8},{"ld":75,"dg":100,"x":65,"y":72.8},
{"ld":75,"dg":100,"x":66,"y":73.0},{"ld":75,"dg":100,"x":67,"y":73.0},{"ld":75,"dg":100,"x":68,"y":73.0},{"ld":75,"dg":100,"x":69,"y":73.0},{"ld":75,"dg":100,"x":70,"y":73.0},{"ld":75,"dg":100,"x":71,"y":73.0},{"ld":75,"dg":100,"x":72,"y":73.0},{"ld":75,"dg":100,"x":73,"y":73.0},{"ld":75,"dg":100,"x":74,"y":73.0},{"ld":75,"dg":100,"x":75,"y":73.0},{"ld":75,"dg":100,"x":76,"y":73.0},{"ld":75,"dg":100,"x":77,"y":73.0},{"ld":75,"dg":100,"x":80,"y":72.95},

{"ld":75,"dg":125,"x":1,"y":69.8},{"ld":75,"dg":125,"x":2,"y":69.8},{"ld":75,"dg":125,"x":3,"y":69.8},{"ld":75,"dg":125,"x":4,"y":69.8},{"ld":75,"dg":125,"x":5,"y":69.8},{"ld":75,"dg":125,"x":6,"y":69.8},{"ld":75,"dg":125,"x":7,"y":69.8},{"ld":75,"dg":125,"x":8,"y":69.8},{"ld":75,"dg":125,"x":9,"y":69.8},{"ld":75,"dg":125,"x":10,"y":69.8},{"ld":75,"dg":125,"x":11,"y":69.8},{"ld":75,"dg":125,"x":12,"y":69.8},
{"ld":75,"dg":125,"x":13,"y":69.5},{"ld":75,"dg":125,"x":14,"y":69.1},{"ld":75,"dg":125,"x":15,"y":69.4},{"ld":75,"dg":125,"x":16,"y":69.2},{"ld":75,"dg":125,"x":17,"y":69.5},{"ld":75,"dg":125,"x":18,"y":69.45},
{"ld":75,"dg":125,"x":19,"y":69.95},{"ld":75,"dg":125,"x":20,"y":69.95},{"ld":75,"dg":125,"x":21,"y":69.95},{"ld":75,"dg":125,"x":22,"y":69.95},{"ld":75,"dg":125,"x":23,"y":70.0},{"ld":75,"dg":125,"x":24,"y":70.0},{"ld":75,"dg":125,"x":25,"y":70.0},{"ld":75,"dg":125,"x":26,"y":70.0},{"ld":75,"dg":125,"x":27,"y":70.0},{"ld":75,"dg":125,"x":28,"y":70.05},{"ld":75,"dg":125,"x":29,"y":70.05},{"ld":75,"dg":125,"x":30,"y":70.05},
{"ld":75,"dg":125,"x":31,"y":70.05},{"ld":75,"dg":125,"x":32,"y":70.05},{"ld":75,"dg":125,"x":33,"y":70.05},{"ld":75,"dg":125,"x":34,"y":70.05},{"ld":75,"dg":125,"x":35,"y":70.05},{"ld":75,"dg":125,"x":36,"y":70.05},{"ld":75,"dg":125,"x":37,"y":70.05},{"ld":75,"dg":125,"x":38,"y":70.05},{"ld":75,"dg":125,"x":39,"y":70.05},{"ld":75,"dg":125,"x":40,"y":70.05},{"ld":75,"dg":125,"x":41,"y":70.05},{"ld":75,"dg":125,"x":42,"y":70.05},
{"ld":75,"dg":125,"x":43,"y":70.1},{"ld":75,"dg":125,"x":44,"y":70.1},{"ld":75,"dg":125,"x":45,"y":70.1},{"ld":75,"dg":125,"x":46,"y":70.1},{"ld":75,"dg":125,"x":47,"y":70.1},{"ld":75,"dg":125,"x":48,"y":70.1},{"ld":75,"dg":125,"x":49,"y":70.1},{"ld":75,"dg":125,"x":50,"y":70.1},{"ld":75,"dg":125,"x":51,"y":70.1},{"ld":75,"dg":125,"x":52,"y":70.1},{"ld":75,"dg":125,"x":53,"y":70.1},{"ld":75,"dg":125,"x":54,"y":70.1},
{"ld":75,"dg":125,"x":55,"y":69.8},{"ld":75,"dg":125,"x":56,"y":69.55},{"ld":75,"dg":125,"x":57,"y":69.5},{"ld":75,"dg":125,"x":58,"y":69.5},{"ld":75,"dg":125,"x":59,"y":69.5},{"ld":75,"dg":125,"x":60,"y":69.5},{"ld":75,"dg":125,"x":61,"y":69.5},{"ld":75,"dg":125,"x":62,"y":69.55},{"ld":75,"dg":125,"x":63,"y":69.8},{"ld":75,"dg":125,"x":64,"y":69.8},{"ld":75,"dg":125,"x":65,"y":69.8},
{"ld":75,"dg":125,"x":66,"y":70.2},{"ld":75,"dg":125,"x":67,"y":70.2},{"ld":75,"dg":125,"x":68,"y":70.2},{"ld":75,"dg":125,"x":69,"y":70.2},{"ld":75,"dg":125,"x":70,"y":70.2},{"ld":75,"dg":125,"x":71,"y":70.2},{"ld":75,"dg":125,"x":72,"y":70.2},{"ld":75,"dg":125,"x":73,"y":70.2},{"ld":75,"dg":125,"x":74,"y":70.2},{"ld":75,"dg":125,"x":75,"y":70.2},{"ld":75,"dg":125,"x":76,"y":70.2},{"ld":75,"dg":125,"x":77,"y":70.2},{"ld":75,"dg":125,"x":80,"y":70.1}
]},
"layer":[
{"data":{"name":"vlines"},"mark":{"type":"rule","color":"#2b2bbf","strokeDash":[9,5],"strokeWidth":1.2},
 "encoding":{"x":{"field":"x","type":"quantitative","scale":{"domain":[0,82],"nice":false,"zero":false},
 "axis":{"orient":"bottom","values":[0,20,40,60,80],"labelPadding":15,"title":"Node Numer","titlePadding":0,"titleFontSize":30,"labelFlush":false}}}},
{"data":{"name":"feeders"},"mark":{"type":"rule","color":"#111","strokeWidth":1.2},
 "encoding":{"x":{"field":"start","type":"quantitative","scale":{"domain":[0,82],"nice":false,"zero":false},"axis":{"orient":"top","values":[0,20,40,60,80],"labels":false,"title":null,"domain":false}},
 "x2":{"field":"end"},
 "y":{"field":"level","type":"quantitative","scale":{"domain":[65,125],"nice":false,"zero":false},"axis":{"orient":"right","values":[70,80,90,100,110,120],"labels":false,"title":null,"domain":false}}}},
{"data":{"name":"feeders"},"mark":{"type":"point","shape":"M2,-1.5L0,0L2,1.5","size":64,"filled":false,"stroke":"#555","strokeWidth":1.5,"opacity":1},
 "encoding":{"x":{"field":"start","type":"quantitative","scale":{"domain":[0,82],"nice":false,"zero":false},"axis":null},
 "y":{"field":"level","type":"quantitative","scale":{"domain":[65,125],"nice":false,"zero":false},"axis":null}}},
{"data":{"name":"feeders"},"mark":{"type":"point","shape":"M-2,-1.5L0,0L-2,1.5","size":64,"filled":false,"stroke":"#555","strokeWidth":1.5,"opacity":1},
 "encoding":{"x":{"field":"end","type":"quantitative","scale":{"domain":[0,82],"nice":false,"zero":false},"axis":null},
 "y":{"field":"level","type":"quantitative","scale":{"domain":[65,125],"nice":false,"zero":false},"axis":null}}},
{"data":{"name":"feeders"},"mark":{"type":"text","font":"Liberation Serif","fontSize":33,"color":"#000","baseline":"middle","align":"center","dy":-14},
 "encoding":{"x":{"field":"mid","type":"quantitative","scale":{"domain":[0,82],"nice":false,"zero":false},"axis":null},
 "y":{"field":"level","type":"quantitative","scale":{"domain":[65,125],"nice":false,"zero":false},"axis":null},
 "text":{"field":"f"}}},
{"data":{"name":"series"},"transform":[{"filter":"datum.ld==125"}],"mark":{"type":"line","color":"#000","strokeWidth":1},
 "encoding":{"x":{"field":"x","type":"quantitative","scale":{"domain":[0,82],"nice":false,"zero":false},"axis":null},
 "y":{"field":"y","type":"quantitative","scale":{"domain":[65,125],"nice":false,"zero":false},
 "axis":{"orient":"left","values":[70,80,90,100,110,120],"labelPadding":15,"title":"DLMP ($/MWh)","titlePadding":8,"titleFontSize":33,"titleY":282}},
 "detail":{"field":"dg","type":"nominal"}}},
{"data":{"name":"series"},"transform":[{"filter":"datum.ld==100"}],"mark":{"type":"line","color":"#ff3030","strokeWidth":1.2,"strokeDash":[1.5,3],"opacity":0.8},
 "encoding":{"x":{"field":"x","type":"quantitative","scale":{"domain":[0,82],"nice":false,"zero":false},"axis":null},
 "y":{"field":"y","type":"quantitative","scale":{"domain":[65,125],"nice":false,"zero":false},"axis":null},
 "detail":{"field":"dg","type":"nominal"}}},
{"data":{"name":"series"},"transform":[{"filter":"datum.ld==75"}],"mark":{"type":"line","color":"#2a9a2a","strokeWidth":1.5},
 "encoding":{"x":{"field":"x","type":"quantitative","scale":{"domain":[0,82],"nice":false,"zero":false},"axis":null},
 "y":{"field":"y","type":"quantitative","scale":{"domain":[65,125],"nice":false,"zero":false},"axis":null},
 "detail":{"field":"dg","type":"nominal"}}},
{"data":{"name":"series"},"transform":[{"filter":"datum.ld==125"}],"mark":{"type":"point","shape":"M-1,-1L1,1M-1,1L1,-1","size":90,"filled":false,"stroke":"#c4c4c4","strokeWidth":3,"opacity":0.8},
 "encoding":{"x":{"field":"x","type":"quantitative","scale":{"domain":[0,82],"nice":false,"zero":false},"axis":null},
 "y":{"field":"y","type":"quantitative","scale":{"domain":[65,125],"nice":false,"zero":false},"axis":null}}},
{"data":{"name":"series"},"transform":[{"filter":"datum.ld==125"}],"mark":{"type":"point","shape":"M-1,-1L1,1M-1,1L1,-1","size":90,"filled":false,"stroke":"#000","strokeWidth":1,"opacity":1},
 "encoding":{"x":{"field":"x","type":"quantitative","scale":{"domain":[0,82],"nice":false,"zero":false},"axis":null},
 "y":{"field":"y","type":"quantitative","scale":{"domain":[65,125],"nice":false,"zero":false},"axis":null}}},
{"data":{"name":"series"},"transform":[{"filter":"datum.ld==100"}],"mark":{"type":"point","shape":"circle","size":26,"filled":true,"color":"#dd0000","opacity":1},
 "encoding":{"x":{"field":"x","type":"quantitative","scale":{"domain":[0,82],"nice":false,"zero":false},"axis":null},
 "y":{"field":"y","type":"quantitative","scale":{"domain":[65,125],"nice":false,"zero":false},"axis":null}}},
{"data":{"name":"series"},"transform":[{"filter":"datum.ld==75"}],"mark":{"type":"point","shape":"M-1,0L1,0M0,-1L0,1","size":110,"filled":false,"stroke":"#1d5a1d","strokeWidth":1.2,"opacity":1},
 "encoding":{"x":{"field":"x","type":"quantitative","scale":{"domain":[0,82],"nice":false,"zero":false},"axis":null},
 "y":{"field":"y","type":"quantitative","scale":{"domain":[65,125],"nice":false,"zero":false},"axis":null}}},
{"data":{"name":"leaders"},"mark":{"type":"rule","color":"#404040","strokeWidth":1.3},
 "encoding":{"x":{"field":"x","type":"quantitative","scale":{"domain":[0,82],"nice":false,"zero":false},"axis":null},
 "y":{"field":"y","type":"quantitative","scale":{"domain":[65,125],"nice":false,"zero":false},"axis":null},
 "x2":{"field":"x2"},"y2":{"field":"y2"}}},
{"data":{"name":"labels"},"mark":{"type":"text","font":"Liberation Serif","fontSize":29,"color":"#000","baseline":"middle","align":"left"},
 "encoding":{"x":{"datum":83.6,"type":"quantitative","scale":{"domain":[0,82],"nice":false,"zero":false},"axis":null},
 "y":{"field":"y","type":"quantitative","scale":{"domain":[65,125],"nice":false,"zero":false},"axis":null},
 "text":{"field":"label"}}}
]
}
